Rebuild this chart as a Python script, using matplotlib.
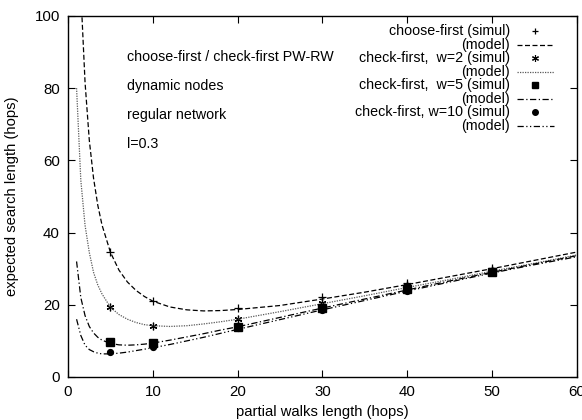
import matplotlib
matplotlib.use('Agg')
import matplotlib.pyplot as plt

plt.rcParams['font.family'] = ['Liberation Sans', 'DejaVu Sans']

# simulation points
xs = [5, 10, 20, 30, 40, 50]
sim_choose = [34.5, 21.1, 19.0, 22.1, 26.1, 30.3]
sim_w2 = [19.3, 14.1, 16.2, 20.4, 25.5, 29.6]
sim_w5 = [9.8, 9.5, 13.9, 19.2, 24.3, 29.2]
sim_w10 = [6.8, 8.2, 13.5, 18.6, 23.9, 29.0]

# model curves
xm_choose = [1.6, 2, 2.5, 3, 3.5, 4, 5, 6, 7, 8, 9, 10, 12, 14, 16, 18, 20,
             25, 30, 35, 40, 45, 50, 55, 60]
mod_choose = [101.7, 81.6, 65.6, 55.1, 47.6, 42.1, 34.5, 29.6, 26.3, 24.0, 22.3,
              21.0, 19.4, 18.6, 18.3, 18.4, 18.7, 19.8, 21.6, 23.5, 25.6, 27.8,
              30.0, 32.3, 34.6]
xm = [1, 1.5, 2, 2.5, 3, 3.5, 4, 5, 6, 7, 8, 9, 10, 12, 14, 16, 18, 20,
      25, 30, 35, 40, 45, 50, 55, 60]
mod_w2 = [80, 54.5, 42, 34.5, 29, 25.5, 23, 19.3, 17.3, 16, 15.1, 14.5, 14.2,
          14.0, 14.2, 14.7, 15.3, 16.0, 18.1, 20.3, 22.5, 24.8, 27.0, 29.3, 31.5, 33.8]
mod_w5 = [32, 22, 17, 14, 12.2, 11, 10.2, 9.3, 8.9, 8.8, 8.9, 9.1, 9.4,
          10.2, 11.1, 12.0, 13.0, 13.9, 16.5, 19.1, 21.6, 24.1, 26.6, 29.0, 31.3, 33.6]
mod_w10 = [16, 11.5, 8.8, 7.6, 7.0, 6.6, 6.4, 6.4, 6.6, 6.9, 7.3, 7.7, 8.1,
           9.0, 10.0, 11.0, 12.1, 13.2, 15.9, 18.6, 21.2, 23.8, 26.3, 28.8, 31.1, 33.3]

labels = ['choose-first (simul)', '(model)', 'check-first,  w=2 (simul)', '(model)',
          'check-first,  w=5 (simul)', '(model)', 'check-first, w=10 (simul)', '(model)']

fig = plt.figure(figsize=(5.82, 4.2), dpi=100)
ax = fig.add_axes([0.117, 0.1024, 0.874, 0.8596])

ls_choose = (0, (4, 2))
ls_w2 = (0, (1, 1))
ls_w5 = (0, (5, 2, 1, 2))
ls_w10 = (0, (5, 2, 1, 2, 1, 2))
asterisk = (6, 2, 0)

ax.plot(xs, sim_choose, ls='none', marker='+', ms=5.5, mew=0.9, color='k')
ax.plot(xm_choose, mod_choose, ls=ls_choose, lw=0.9, color='k')
ax.plot(xs, sim_w2, ls='none', marker=asterisk, ms=5.5, mew=0.9, color='k')
ax.plot(xm, mod_w2, ls=ls_w2, lw=0.9, color='0.35')
ax.plot(xs, sim_w5, ls='none', marker='s', ms=5.2, color='k')
ax.plot(xm, mod_w5, ls=ls_w5, lw=0.9, color='k')
ax.plot(xs, sim_w10, ls='none', marker='o', ms=4.2, color='k')
ax.plot(xm, mod_w10, ls=ls_w10, lw=0.9, color='k')

ax.set_xlim(0, 60)
ax.set_ylim(0, 100)
ax.set_xticks([0, 10, 20, 30, 40, 50, 60])
ax.set_yticks([0, 20, 40, 60, 80, 100])
ax.tick_params(direction='in', top=True, right=True, length=5, labelsize=10.8, pad=6)
for s in ax.spines.values():
    s.set_linewidth(1.0)
ax.set_xlabel('partial walks length (hops)', fontsize=10.6, labelpad=4)
ax.set_ylabel('expected search length (hops)', fontsize=10.6, labelpad=11)

# annotations
for i, t in enumerate(['choose-first / check-first PW-RW', 'dynamic nodes',
                       'regular network', 'l=0.3']):
    ax.text(0.116, 0.885 - i * 0.08, t, transform=ax.transAxes, fontsize=10.3,
            va='center', ha='left')

# gnuplot-like key
styles = [dict(ls='none', marker='+', ms=5, mew=0.9, color='k'),
          dict(ls=ls_choose, lw=0.9, color='k'),
          dict(ls='none', marker=asterisk, ms=5, mew=0.8, color='k'),
          dict(ls=ls_w2, lw=0.9, color='0.35'),
          dict(ls='none', marker='s', ms=5, color='k'),
          dict(ls=ls_w5, lw=0.9, color='k'),
          dict(ls='none', marker='o', ms=4, color='k'),
          dict(ls=ls_w10, lw=0.9, color='k')]
for i, (lab, st) in enumerate(zip(labels, styles)):
    y = 0.958 - i * 0.0375
    ax.text(0.869, y, lab, transform=ax.transAxes, fontsize=10.3, ha='right', va='center')
    if st['ls'] == 'none':
        ax.plot([0.918], [y], transform=ax.transAxes, **st)
    else:
        ax.plot([0.882, 0.955], [y, y], transform=ax.transAxes, **st)

fig.savefig('out.png', dpi=100)
